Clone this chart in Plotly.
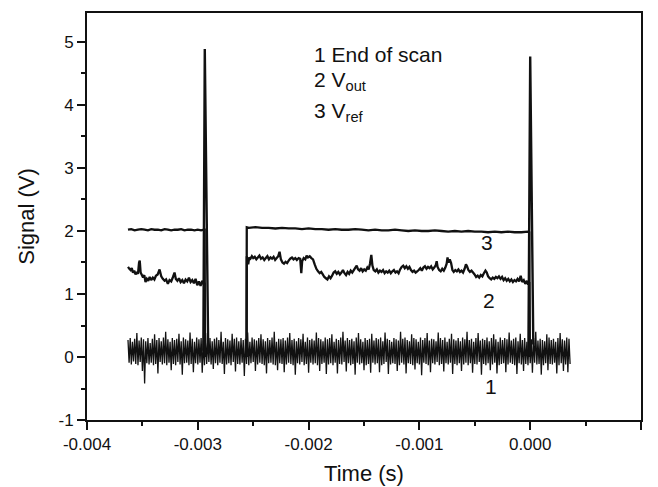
import numpy as np
import plotly.graph_objects as go

# ---------------- data (times in microseconds) ----------------
# Series 1: "End of scan" noise trace, sampled uniformly
noise_t0_us = -3630
noise_dt_us = 10
noise_hundredths = [
    27, -9, 30, -12, 24, -7, 29, -11, 38, -13, 26, -8, 31, -22, 28, -42, 25, -10, 30, -12,
    22, -9, 29, -13, 36, -11, 27, -26, 30, -8, 25, -12, 31, -10, 40, -13, 28, -9, 24, -21,
    30, -11, 27, -13, 29, -8, 37, -12, 25, -28, 31, -10, 28, -9, 26, -13, 39, -11, 29, -24,
    24, -10, 31, -12, 28, -9, 30, -25, 26, -13, 38, -11, 27, -8, 30, -12, 25, -19, 29, -10,
    31, -13, 27, -9, 40, -11, 24, -27, 30, -12, 28, -10, 26, -13, 37, -8, 29, -23, 31, -11,
    25, -12, 30, -9, 27, -30, 29, -11, 39, -13, 24, -10, 31, -8, 28, -22, 26, -12, 30, -9,
    36, -11, 28, -13, 25, -26, 30, -10, 27, -9, 31, -12, 40, -13, 24, -21, 29, -10, 28, -11,
    30, -24, 26, -12, 31, -9, 38, -11, 27, -13, 29, -28, 25, -10, 30, -12, 28, -8, 37, -13,
    24, -11, 31, -25, 27, -9, 29, -12, 26, -10, 39, -13, 30, -22, 28, -11, 25, -9, 31, -27,
    28, -12, 30, -10, 36, -13, 24, -9, 29, -26, 27, -11, 31, -12, 40, -8, 26, -23, 30, -10,
    27, -13, 29, -11, 25, -28, 31, -9, 38, -12, 28, -10, 24, -21, 30, -13, 27, -11, 29, -25,
    37, -9, 26, -12, 30, -10, 28, -24, 31, -13, 25, -11, 39, -8, 29, -27, 27, -12, 24, -10,
    30, -11, 28, -22, 26, -13, 40, -9, 29, -12, 31, -26, 27, -10, 25, -11, 36, -13, 30, -20,
    28, -10, 24, -12, 31, -29, 27, -9, 30, -11, 38, -13, 26, -24, 29, -10, 28, -12, 25, -8,
    39, -13, 30, -11, 27, -23, 31, -10, 24, -12, 29, -9, 37, -27, 28, -11, 26, -13, 30, -10,
    25, -22, 31, -12, 28, -9, 40, -13, 27, -10, 29, -25, 24, -11, 30, -12, 38, -8, 26, -28,
    29, -11, 27, -13, 31, -10, 25, -21, 30, -12, 36, -9, 28, -26, 24, -13, 31, -11, 27, -10,
    30, -24, 28, -12, 39, -9, 26, -11, 29, -13, 31, -27, 25, -10, 37, -12, 27, -22, 30, -11,
    24, -13, 31, -10, 28, -25, 30, -9, 40, -12, 26, -11, 29, -28, 27, -13, 25, -10, 36, -21,
    31, -11, 27, -12, 29, -9, 24, -26, 30, -13, 38, -10, 28, -22, 26, -12, 31, -24, 29, -11,
]

# Series 1: end-of-scan pulses
pulse_t_us = [-2950, -2937, -2906, None, -16, 0, 28]
pulse_v = [0.10, 4.89, 0.10, None, 0.10, 4.77, 0.20]

# Series 2: V_out
vout_t_us = [
    -3630, -3618, -3606, -3596, -3585, -3574, -3562, -3550, -3540, -3530, -3524, -3516, -3505, -3494,
    -3483, -3472, -3460, -3447, -3434, -3421, -3406, -3392, -3378, -3362, -3345, -3330, -3316, -3300,
    -3286, -3270, -3255, -3240, -3224, -3210, -3198, -3184, -3170, -3155, -3140, -3125, -3110, -3095,
    -3080, -3065, -3050, -3035, -3020, -3005, -2990, -2975, -2960, -2948, -2938, -2936,
    None,
    -2560, -2558, -2552, -2545, -2536, -2525, -2512, -2500, -2486, -2472, -2458, -2444, -2430, -2415,
    -2400, -2386, -2372, -2358, -2344, -2330, -2316, -2302, -2288, -2274, -2262, -2250, -2236, -2222,
    -2208, -2194, -2180, -2166, -2150, -2136, -2120, -2106, -2090, -2076, -2066, -2058, -2044, -2030,
    -2018, -2006, -1990, -1975, -1960, -1945, -1930, -1915, -1900, -1886, -1872, -1858, -1844, -1830,
    -1816, -1802, -1788, -1774, -1760, -1746, -1732, -1718, -1704, -1690, -1676, -1662, -1648, -1634,
    -1620, -1606, -1592, -1578, -1566, -1554, -1540, -1526, -1512, -1498, -1484, -1470, -1458, -1446,
    -1434, -1424, -1412, -1398, -1384, -1370, -1356, -1342, -1328, -1314, -1300, -1286, -1272, -1258,
    -1244, -1230, -1216, -1202, -1188, -1174, -1160, -1146, -1132, -1118, -1104, -1090, -1076, -1062,
    -1048, -1034, -1020, -1006, -992, -978, -964, -950, -936, -922, -908, -894, -880, -866,
    -852, -844, -836, -822, -808, -794, -780, -766, -754, -746, -738, -726, -714, -702,
    -690, -676, -662, -648, -634, -620, -606, -592, -580, -570, -558, -544, -530, -516,
    -502, -488, -474, -460, -446, -432, -418, -404, -392, -380, -366, -352, -338, -324,
    -310, -296, -282, -268, -254, -240, -226, -212, -198, -184, -170, -156, -142, -128,
    -114, -100, -86, -72, -58, -44, -30, -18, -8, -4,
]
vout_v = [
    1.43, 1.40, 1.38, 1.41, 1.34, 1.37, 1.31, 1.35, 1.32, 1.50, 1.53, 1.34, 1.30, 1.26,
    1.30, 1.19, 1.24, 1.21, 1.27, 1.22, 1.26, 1.23, 1.29, 1.31, 1.39, 1.28, 1.24, 1.21,
    1.23, 1.16, 1.22, 1.20, 1.27, 1.34, 1.24, 1.21, 1.25, 1.19, 1.22, 1.17, 1.23, 1.20,
    1.26, 1.19, 1.22, 1.17, 1.24, 1.14, 1.20, 1.13, 1.21, 1.16, 1.18, 0.00,
    None,
    0.00, 1.60, 1.55, 1.47, 1.58, 1.56, 1.60, 1.57, 1.59, 1.55, 1.58, 1.61, 1.56, 1.58,
    1.54, 1.57, 1.60, 1.55, 1.58, 1.56, 1.59, 1.54, 1.57, 1.60, 1.67, 1.55, 1.50, 1.48,
    1.51, 1.49, 1.53, 1.56, 1.58, 1.55, 1.57, 1.54, 1.57, 1.56, 1.33, 1.52, 1.57, 1.55,
    1.61, 1.58, 1.60, 1.57, 1.55, 1.47, 1.40, 1.36, 1.33, 1.35, 1.31, 1.27, 1.25, 1.23,
    1.28, 1.25, 1.29, 1.34, 1.36, 1.32, 1.35, 1.31, 1.34, 1.38, 1.33, 1.30, 1.35, 1.32,
    1.37, 1.34, 1.38, 1.42, 1.45, 1.39, 1.37, 1.41, 1.36, 1.39, 1.37, 1.42, 1.39, 1.48,
    1.62, 1.45, 1.38, 1.36, 1.39, 1.34, 1.37, 1.35, 1.38, 1.33, 1.36, 1.34, 1.37, 1.33,
    1.36, 1.38, 1.34, 1.36, 1.33, 1.39, 1.43, 1.45, 1.41, 1.44, 1.40, 1.43, 1.38, 1.35,
    1.37, 1.34, 1.36, 1.38, 1.41, 1.37, 1.42, 1.44, 1.40, 1.43, 1.41, 1.44, 1.39, 1.42,
    1.46, 1.52, 1.43, 1.38, 1.36, 1.40, 1.37, 1.42, 1.48, 1.58, 1.50, 1.55, 1.49, 1.38,
    1.35, 1.38, 1.36, 1.39, 1.35, 1.37, 1.34, 1.40, 1.47, 1.44, 1.38, 1.35, 1.37, 1.34,
    1.31, 1.27, 1.29, 1.26, 1.30, 1.28, 1.33, 1.37, 1.34, 1.28, 1.25, 1.23, 1.26, 1.24,
    1.27, 1.25, 1.28, 1.24, 1.27, 1.22, 1.25, 1.21, 1.24, 1.20, 1.23, 1.19, 1.22, 1.20,
    1.24, 1.20, 1.29, 1.19, 1.22, 1.16, 1.21, 1.15, 1.19, 0.00,
]

# Series 3: V_ref
vref_t_us = [
    -3630, -3600, -3570, -3540, -3510, -3480, -3450, -3420, -3390, -3360, -3330, -3300, -3270,
    -3240, -3210, -3180, -3150, -3120, -3090, -3060, -3030, -3000, -2970, -2945, -2938, -2936,
    None,
    -2560, -2558, -2540, -2480, -2420, -2360, -2300, -2240, -2180, -2120, -2060, -2000, -1940,
    -1880, -1820, -1760, -1700, -1640, -1580, -1520, -1460, -1400, -1340, -1280, -1220, -1160,
    -1100, -1040, -980, -920, -860, -800, -740, -680, -620, -560, -500, -440, -380, -320, -260,
    -200, -140, -80, -20, -8, -4,
]
vref_v = [
    2.02, 2.03, 2.01, 2.02, 2.03, 2.02, 2.01, 2.03, 2.02, 2.02, 2.01, 2.03, 2.02,
    2.01, 2.02, 2.02, 2.03, 2.01, 2.02, 2.02, 2.01, 2.02, 2.01, 2.02, 2.02, 0.00,
    None,
    0.00, 2.06, 2.05, 2.06, 2.05, 2.05, 2.04, 2.05, 2.04, 2.04, 2.03, 2.04, 2.03,
    2.03, 2.02, 2.03, 2.02, 2.02, 2.03, 2.02, 2.01, 2.02, 2.01, 2.01, 2.02, 2.01,
    2.00, 2.01, 2.00, 2.00, 2.01, 2.00, 1.99, 2.00, 1.99, 2.00, 1.99, 1.99, 1.98, 1.99, 1.98,
    1.99, 1.98, 1.98, 1.99, 1.98, 0.00,
]

# Axis ticks
x_tick_vals = [-0.004, -0.003, -0.002, -0.001, 0.000, 0.001]
x_tick_text = ["-0.004", "-0.003", "-0.002", "-0.001", "0.000", "0.001"]
y_tick_vals = [-1, 0, 1, 2, 3, 4, 5]
y_tick_text = ["-1", "0", "1", "2", "3", "4", "5"]

# ---------------- helpers ----------------
def us_to_s(seq):
    return [None if v is None else v * 1e-6 for v in seq]

noise_t = (noise_t0_us + noise_dt_us * np.arange(len(noise_hundredths))) * 1e-6
noise_v = np.array(noise_hundredths) / 100.0

FONT = "Liberation Sans, Arial, sans-serif"
INK = "#111111"

fig = go.Figure()
fig.add_trace(go.Scatter(x=noise_t, y=noise_v, mode="lines",
                         line=dict(color=INK, width=1.3, simplify=False), showlegend=False,
                         name="End of scan"))
fig.add_trace(go.Scatter(x=us_to_s(pulse_t_us), y=pulse_v, mode="lines",
                         line=dict(color=INK, width=2.4, simplify=False), showlegend=False,
                         connectgaps=False, name="End of scan pulse"))
fig.add_trace(go.Scatter(x=us_to_s(vout_t_us), y=vout_v, mode="lines",
                         line=dict(color=INK, width=2.3, simplify=False), showlegend=False,
                         connectgaps=False, name="Vout"))
fig.add_trace(go.Scatter(x=us_to_s(vref_t_us), y=vref_v, mode="lines",
                         line=dict(color=INK, width=2.3, simplify=False), showlegend=False,
                         connectgaps=False, name="Vref"))

ann_font = dict(family=FONT, size=21, color=INK)
legend_lines = ["1 End of scan", "2 V<sub>out</sub>", "3 V<sub>ref</sub>"]
legend_y = [0.899, 0.834, 0.757]
for txt, yy in zip(legend_lines, legend_y):
    fig.add_annotation(x=0.406, y=yy, xref="paper", yref="paper", text=txt,
                       showarrow=False, xanchor="left", yanchor="middle", font=ann_font)

curve_labels = ["3", "2", "1"]
curve_label_x = [-0.000387, -0.000369, -0.000351]
curve_label_y = [1.81, 0.90, -0.47]
for txt, xx, yy in zip(curve_labels, curve_label_x, curve_label_y):
    fig.add_annotation(x=xx, y=yy, text=txt, showarrow=False,
                       xanchor="center", yanchor="middle", font=ann_font)

axis_common = dict(
    showline=True, linewidth=2, linecolor=INK, mirror=True,
    ticks="outside", ticklen=8, tickwidth=2, tickcolor=INK,
    showgrid=False, zeroline=False, automargin=False,
    tickfont=dict(family=FONT, size=17, color=INK),
)

fig.update_xaxes(range=[-0.004, 0.001], tickvals=x_tick_vals, ticktext=x_tick_text,
                 minor=dict(ticks="outside", ticklen=4, tickwidth=1.5, tickcolor=INK,
                            dtick=0.0005, showgrid=False),
                 title=dict(text="Time (s)", font=dict(family=FONT, size=22, color=INK),
                            standoff=12),
                 **axis_common)
fig.update_yaxes(range=[-1, 5.46], tickvals=y_tick_vals, ticktext=y_tick_text,
                 minor=dict(ticks="outside", ticklen=4, tickwidth=1.5, tickcolor=INK,
                            dtick=0.5, showgrid=False),
                 title=dict(text="Signal (V)", font=dict(family=FONT, size=22, color=INK),
                            standoff=18),
                 **axis_common)

fig.update_layout(
    width=658, height=487,
    margin=dict(l=87, r=17, t=13, b=67),
    paper_bgcolor="white", plot_bgcolor="white",
    showlegend=False,
)

fig.write_html("out.html")
